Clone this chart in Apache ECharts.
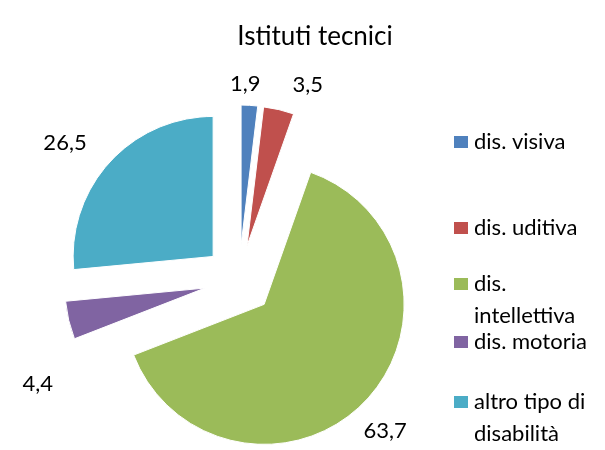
<!DOCTYPE html>
<html>
<head>
<meta charset="utf-8">
<script src="https://cdn.jsdelivr.net/npm/echarts@6/dist/echarts.min.js"></script>
<style>
html, body { margin: 0; padding: 0; background: #fff; }
#chart { width: 605px; height: 450px; }
</style>
</head>
<body>
<div id="chart"></div>
<script>
// data
const categories = ['dis. visiva', 'dis. uditiva', 'dis. intellettiva', 'dis. motoria', 'altro tipo di disabilità'];
const values = [1.9, 3.5, 63.7, 4.4, 26.5];
const colors = ['#4F81BD', '#C0504D', '#9BBB59', '#8064A2', '#4BACC6'];

// how the legend text wraps in the original
const legendLines = {
    'dis. intellettiva': ' \ndis.\nintellettiva',
    'altro tipo di disabilità': ' \naltro tipo di\ndisabilità'
};
// legend item tops (px)
const legendTops = [126, 212, 236, 326, 354];
// value label nudges [dx, dy]
const labelNudge = [[-25, -13], [7, -17], [-12, 24], [-3, 62], [-12, -14]];

const font = 'Lato, "Open Sans", sans-serif';

function getOption() {
    return {
        animation: false,
        color: colors,
        title: {
            text: 'Istituti tecnici',
            left: 315,
            textAlign: 'center',
            top: 24,
            padding: 0,
            textStyle: { fontFamily: font, fontSize: 26, fontWeight: 'normal', color: '#000' }
        },
        legend: categories.map((name, i) => ({
            data: [name],
            left: 452,
            top: legendTops[i],
            padding: 0,
            itemWidth: 16,
            itemHeight: 14,
            itemGap: 7,
            icon: 'rect',
            selectedMode: false,
            formatter: n => legendLines[n] || n,
            textStyle: { fontFamily: font, fontSize: 22, color: '#000', lineHeight: 32 }
        })),
        series: [
            {
                type: 'pie',
                center: [239, 280],
                radius: [0, 140],
                startAngle: 90,
                clockwise: true,
                selectedMode: 'multiple',
                selectedOffset: 35,
                avoidLabelOverlap: false,
                emphasis: { disabled: true },
                itemStyle: { borderColor: '#fff', borderWidth: 1 },
                label: {
                    show: true,
                    position: 'outside',
                    fontFamily: font,
                    fontSize: 22,
                    color: '#000',
                    formatter: p => String(p.value).replace('.', ',')
                },
                labelLine: { show: false, length: 8, length2: 0 },
                labelLayout: p => ({ dx: labelNudge[p.dataIndex][0], dy: labelNudge[p.dataIndex][1] }),
                data: categories.map((name, i) => ({ name: name, value: values[i], selected: true }))
            }
        ]
    };
}

const chart = echarts.init(document.getElementById('chart'));
chart.setOption(getOption());
</script>
</body>
</html>
